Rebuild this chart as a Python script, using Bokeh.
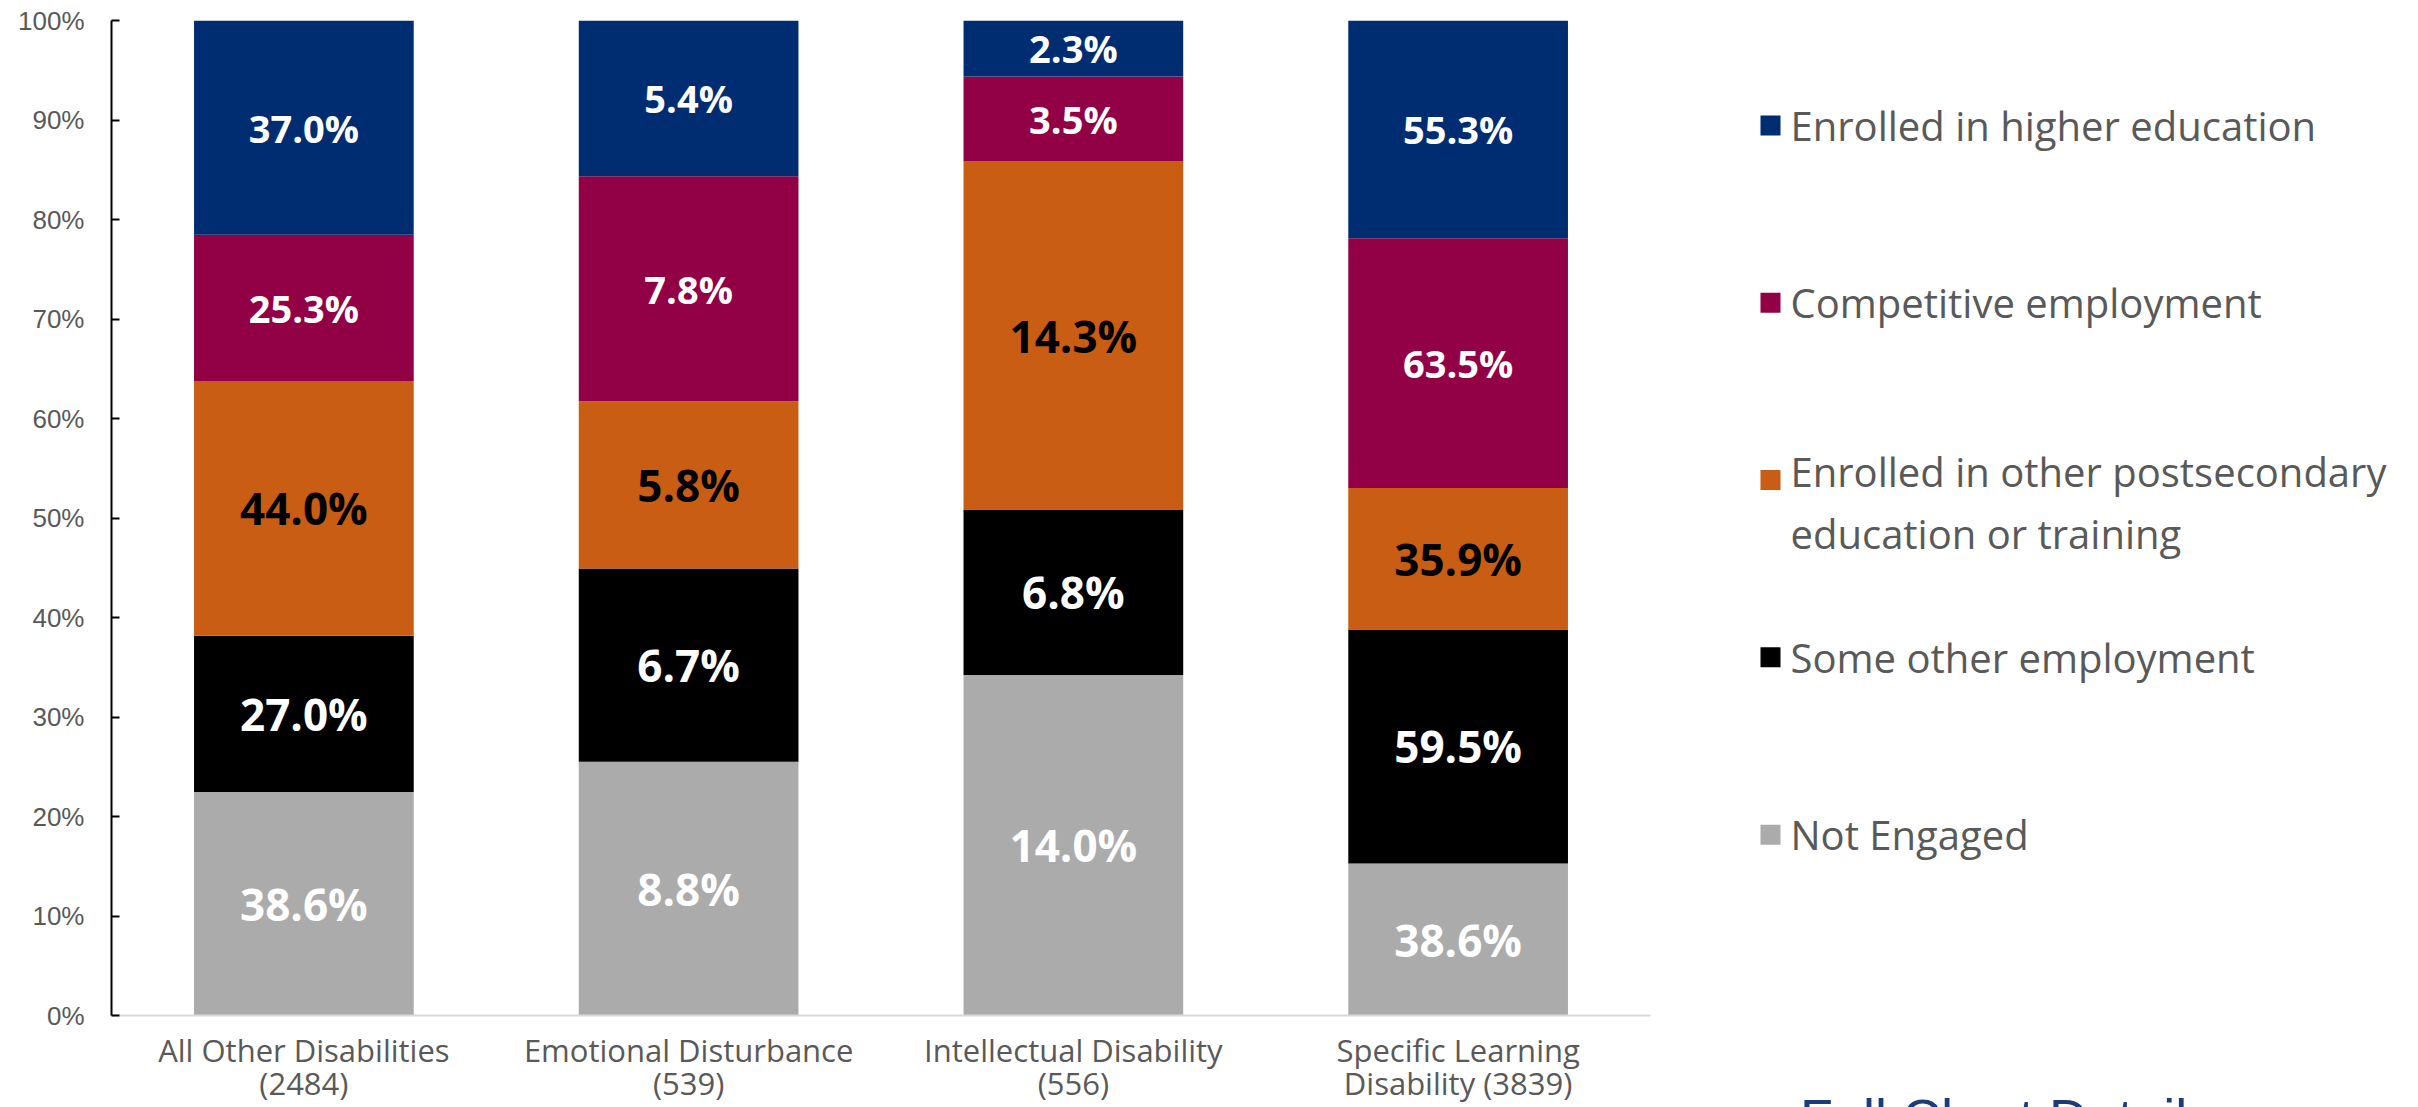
from bokeh.plotting import figure
from bokeh.models import ColumnDataSource, Range1d, FactorRange, NumeralTickFormatter, FixedTicker, Div
from bokeh.layouts import row, column
from bokeh.embed import file_html
from bokeh.resources import INLINE
from bokeh.core.properties import value

# ---------------- data ----------------
categories = [
    "All Other Disabilities\n(2484)",
    "Emotional Disturbance\n(539)",
    "Intellectual Disability\n(556)",
    "Specific Learning\nDisability (3839)",
]
series_keys = ["not_engaged", "some_other_employment", "other_postsecondary",
               "competitive_employment", "higher_education"]
series_names = ["Not Engaged", "Some other employment",
                "Enrolled in other postsecondary\neducation or training",
                "Competitive employment", "Enrolled in higher education"]

not_engaged = [38.6, 8.8, 14.0, 38.6]
some_other_employment = [27.0, 6.7, 6.8, 59.5]
other_postsecondary = [44.0, 5.8, 14.3, 35.9]
competitive_employment = [25.3, 7.8, 3.5, 63.5]
higher_education = [37.0, 5.4, 2.3, 55.3]

series_colors = ["#ABABAB", "#000000", "#C95D14", "#920046", "#002D72"]
label_colors = ["white", "white", "black", "white", "white"]
label_sizes = ["44px", "44px", "44px", "38px", "38px"]
y_ticks = [0.0, 0.1, 0.2, 0.3, 0.4, 0.5, 0.6, 0.7, 0.8, 0.9, 1.0]
link_text = "Full Chart Details"

# ---------------- derived (100% stacking) ----------------
series_values = [not_engaged, some_other_employment, other_postsecondary,
                 competitive_employment, higher_education]
totals = [sum(vals) for vals in zip(*series_values)]
data = {"cat": categories}
for key, vals in zip(series_keys, series_values):
    data[key] = [v / t for v, t in zip(vals, totals)]
src = ColumnDataSource(data)

lx, ly, lt, lc, ls = [], [], [], [], []
base = [0.0] * len(categories)
for key, vals, col, size in zip(series_keys, series_values, label_colors, label_sizes):
    for i, cat in enumerate(categories):
        share = data[key][i]
        lx.append(cat)
        ly.append(base[i] + share / 2)
        lt.append(f"{vals[i]:.1f}%")
        lc.append(col)
        ls.append(size)
        base[i] += share
lsrc = ColumnDataSource(dict(x=lx, y=ly, text=lt, color=lc, size=ls))

# ---------------- layout constants ----------------
TOTAL_W, TOTAL_H = 2418, 1107
BORDER_TOP, BORDER_BOTTOM = 20, 91
MAIN_W = 1708
LEG_W = TOTAL_W - MAIN_W

# ---------------- main chart ----------------
p = figure(x_range=FactorRange(*categories), y_range=Range1d(0, 1),
           width=MAIN_W, height=TOTAL_H,
           min_border_left=111, min_border_right=58,
           min_border_top=BORDER_TOP, min_border_bottom=BORDER_BOTTOM,
           output_backend="svg", toolbar_location=None)

p.vbar_stack(series_keys, x="cat", width=0.571, color=series_colors,
             line_color=None, source=src)

p.text(x="x", y="y", text="text", text_color="color", text_font_size="size",
       source=lsrc, text_font=value("Open Sans"), text_font_style="bold",
       text_align="center", text_baseline="middle")

p.xgrid.grid_line_color = None
p.ygrid.grid_line_color = None
p.outline_line_color = None
p.background_fill_color = "white"
p.border_fill_color = "white"

xa = p.xaxis[0]
xa.axis_line_color = "#D9D9D9"
xa.axis_line_width = 2
xa.major_tick_line_color = None
xa.minor_tick_line_color = None
xa.major_label_text_font = "Open Sans"
xa.major_label_text_font_size = "31px"
xa.major_label_text_color = "#595959"
xa.major_label_text_line_height = 0.8
xa.major_label_standoff = 7

ya = p.yaxis[0]
ya.ticker = FixedTicker(ticks=y_ticks)
ya.formatter = NumeralTickFormatter(format="0%")
ya.axis_line_color = "black"
ya.axis_line_width = 2
ya.major_tick_line_color = "black"
ya.major_tick_line_width = 2
ya.major_tick_in = 8
ya.major_tick_out = 0
ya.minor_tick_line_color = None
ya.major_label_text_font = "Liberation Sans"
ya.major_label_text_font_size = "26px"
ya.major_label_text_color = "#595959"
ya.major_label_standoff = 27

# ---------------- legend panel (pixel-like coordinates) ----------------
L = figure(width=LEG_W, height=TOTAL_H,
           x_range=Range1d(0, LEG_W),
           y_range=Range1d(TOTAL_H - BORDER_BOTTOM, BORDER_TOP),
           min_border_left=0, min_border_right=0,
           min_border_top=BORDER_TOP, min_border_bottom=BORDER_BOTTOM,
           x_axis_location=None, y_axis_location=None,
           output_backend="svg", toolbar_location=None)
L.grid.visible = False
L.outline_line_color = None

order = list(range(len(series_keys)))[::-1]  # top item = top of stack
item_y0, item_step, line_gap = 125, 177.5, 45
sq_y, tx_y, names, cols = [], [], [], []
for k, idx in enumerate(order):
    y = item_y0 + k * item_step
    name = series_names[idx]
    n_lines = name.count("\n") + 1
    sq_y.append(y)
    tx_y.append(y + (n_lines - 1) * line_gap / 2)
    names.append(name)
    cols.append(series_colors[idx])

L.scatter(x=[62] * len(order), y=sq_y, marker="square", size=20,
          color=cols, line_color=None)
L.text(x=[82] * len(order), y=tx_y, text=names, text_font=value("Open Sans"),
       text_font_size="40px", text_color="#595959", text_baseline="middle",
       text_align="left", text_line_height=1.12)

# "Full Chart Details" link text: only its top edge shows at the page bottom
link = Div(text=(f'<div style="font-family:\'Liberation Sans\',Arial,sans-serif;'
                 f'font-size:54px;line-height:1;color:#1B3B7A;white-space:nowrap;'
                 f'margin-top:-7px">{link_text}</div>'),
           width=600, height=9, margin=(-9, 0, 0, 1800),
           styles={"overflow": "hidden"})

layout = column(row(p, L), link)
open("out.html", "w").write(file_html(layout, INLINE))
